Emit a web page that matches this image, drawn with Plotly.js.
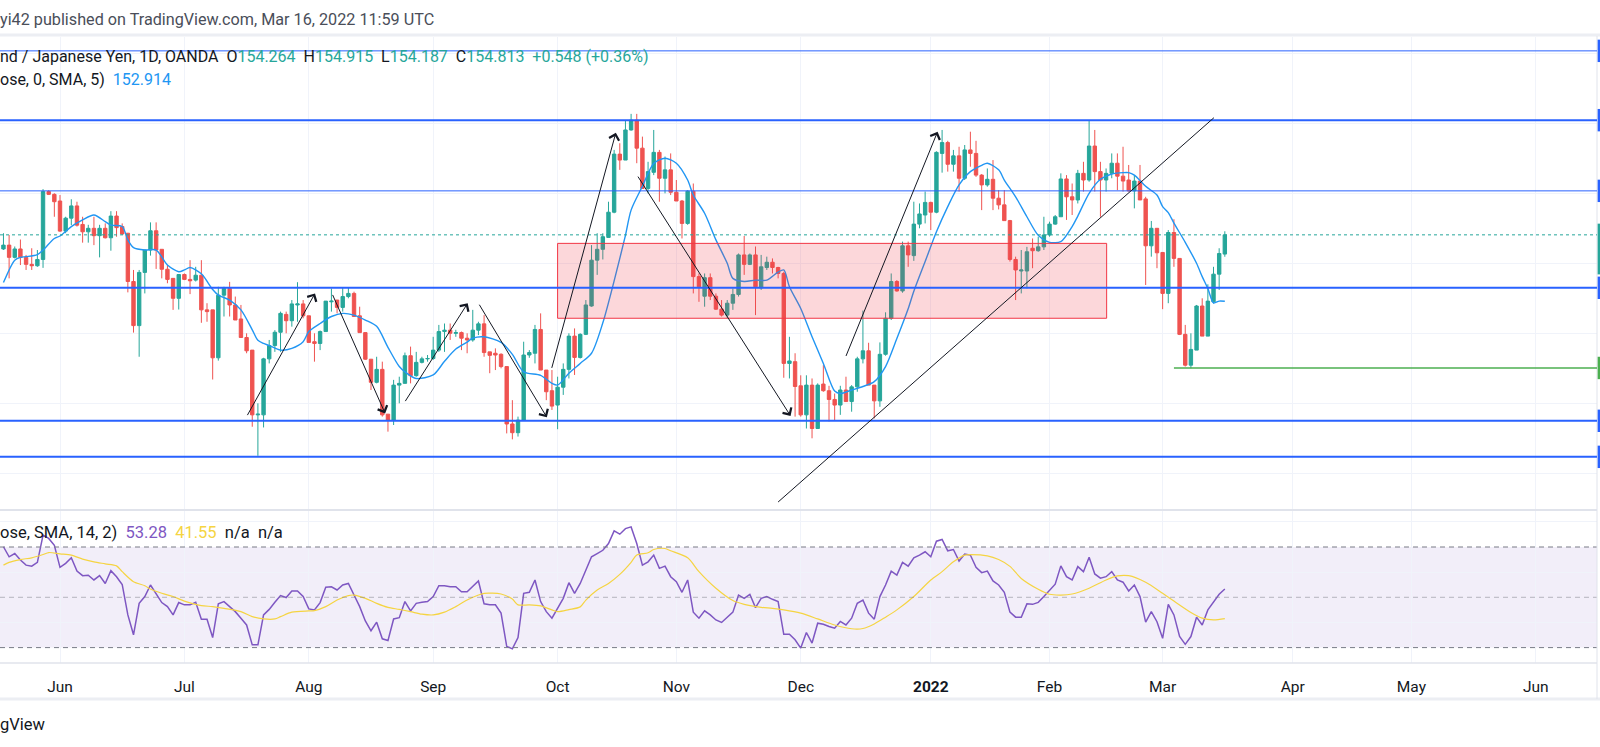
<!DOCTYPE html>
<html><head><meta charset="utf-8">
<script src="https://cdn.plot.ly/plotly-3.0.1.min.js"></script>
<style>html,body{margin:0;padding:0;background:#fff;overflow:hidden}#chart{width:1600px;height:747px}</style>
</head><body><div id="chart"></div>
<script>
// ---- data ----
const firstBar = '2021-05-18', lastBar = '2022-03-16';

const openPx = [154.41,154.52,154.17,154.41,154.17,153.97,153.93,154.11,156.05,155.97,
155.78,154.92,155.29,155.64,155.11,154.90,155.00,154.79,155.00,154.73,
155.35,155.05,154.86,153.48,152.22,153.74,154.38,154.93,154.40,153.83,
153.57,153.00,153.68,153.54,153.52,153.66,152.67,152.67,151.30,153.09,
153.28,152.81,152.41,151.88,151.52,149.67,149.67,151.27,151.65,152.03,
152.54,152.36,152.81,152.84,152.50,151.76,151.71,152.05,152.90,152.95,
152.74,153.05,153.14,152.50,152.02,151.26,150.60,150.97,149.69,149.52,
150.52,150.57,151.36,150.79,151.17,151.27,151.28,151.52,152.05,152.09,
152.00,152.02,151.86,151.81,152.09,152.27,151.47,151.43,151.40,151.05,
149.41,149.16,149.52,151.38,151.43,152.11,150.95,150.36,149.95,150.46,
150.97,151.92,151.31,151.97,152.78,154.09,154.40,154.74,155.46,157.12,
156.95,157.81,158.09,157.29,156.14,156.60,157.17,156.43,156.67,156.03,
155.78,155.14,156.06,153.62,153.06,153.59,153.06,152.69,152.52,152.86,
153.11,154.24,153.97,154.24,153.30,153.88,154.03,153.88,153.71,151.14,
151.19,150.50,149.67,150.52,149.28,150.55,150.36,150.11,149.95,150.38,
150.05,150.47,151.27,151.50,150.52,150.07,151.40,152.43,153.48,153.21,
154.50,154.22,155.12,155.38,155.74,155.46,157.14,157.45,156.83,157.07,
156.43,157.24,157.14,156.52,156.24,156.40,155.86,155.67,155.22,154.11,
153.78,153.78,154.43,154.36,154.47,154.81,155.12,155.33,156.41,155.90,
155.81,156.57,156.38,157.35,156.62,156.38,156.57,156.86,156.49,156.38,
156.07,156.35,155.84,154.50,155.00,154.31,153.14,154.88,154.14,151.97,
151.09,151.52,152.78,151.92,152.90,153.69,154.264];

const highPx = [154.86,154.81,154.48,154.68,154.24,154.43,154.38,156.12,156.09,156.00,
155.95,155.33,155.83,155.76,155.33,155.10,155.33,155.10,155.14,155.49,
155.49,155.14,154.86,153.81,153.81,154.38,155.17,155.17,154.40,153.95,
153.57,153.68,153.71,154.09,153.90,154.09,152.86,152.67,153.33,153.33,
153.47,153.05,152.81,152.00,151.52,150.00,151.30,151.81,152.09,152.62,
152.62,152.95,153.46,152.95,152.50,152.00,152.08,152.92,153.28,152.95,
153.30,153.30,153.19,152.76,152.02,151.26,151.33,151.19,149.69,150.67,
150.76,151.45,151.62,151.47,151.33,151.38,151.90,152.24,152.28,152.28,
152.10,152.05,152.00,152.67,152.33,152.52,151.47,151.57,151.43,151.05,
150.09,149.62,151.76,151.52,152.24,152.57,150.95,150.95,150.76,151.14,
152.00,152.14,152.00,152.95,154.52,154.86,154.86,155.76,157.24,157.43,
158.09,158.27,158.27,157.62,156.90,157.81,157.24,157.05,157.14,156.38,
155.81,156.09,156.28,153.71,153.71,153.71,153.14,152.95,152.95,153.28,
154.28,154.78,154.28,154.48,154.24,154.19,154.14,153.90,153.76,151.90,
151.43,150.80,150.80,150.71,150.57,151.09,150.50,150.28,150.50,150.76,
150.52,151.33,152.65,151.73,150.52,151.74,152.60,153.71,153.52,154.62,
154.62,155.76,155.71,156.05,155.76,157.20,157.81,157.50,157.24,157.33,
157.38,157.76,157.50,156.55,156.71,156.95,156.09,156.09,155.24,154.19,
154.38,154.47,154.71,154.76,155.33,155.19,155.38,156.57,156.52,156.28,
156.67,156.90,158.09,157.81,156.90,156.71,157.14,157.14,157.33,156.81,
156.52,156.81,155.90,155.21,155.00,154.31,154.95,155.26,154.14,152.24,
152.00,152.81,153.00,153.40,153.90,154.43,154.915];

const lowPx = [154.38,153.57,154.14,153.95,153.81,153.81,153.90,153.87,155.95,155.33,
154.90,154.86,155.09,155.05,154.59,154.59,154.52,154.17,154.71,154.36,
154.76,154.81,153.17,152.02,151.33,153.14,154.22,153.84,153.57,153.43,
152.67,152.68,153.52,153.12,153.48,152.30,152.33,150.68,151.22,152.48,
152.48,152.38,151.88,151.43,149.33,148.50,149.31,151.14,151.47,151.47,
152.00,152.19,152.33,152.43,151.74,151.19,151.52,152.05,152.62,152.57,
152.62,153.00,152.48,152.02,151.24,150.38,150.57,149.62,149.19,149.38,
150.00,150.57,150.57,150.76,151.14,151.19,151.24,151.47,151.47,151.81,
151.90,151.52,151.43,151.76,151.95,151.33,150.86,150.95,151.00,149.14,
148.97,149.05,149.52,151.30,151.14,150.95,150.09,149.81,149.26,150.24,
150.71,150.81,151.28,151.95,152.76,153.67,154.11,154.74,155.43,156.67,
156.95,157.79,156.86,156.14,156.00,156.52,155.76,156.00,155.95,155.78,
154.71,155.10,153.14,152.90,152.76,152.95,152.67,152.48,152.43,152.67,
153.05,153.67,153.95,152.52,153.24,153.81,153.71,153.57,150.73,150.71,
149.62,149.62,149.28,149.00,149.28,150.33,149.48,149.52,149.67,150.05,
149.76,150.33,151.14,150.52,149.57,149.90,151.36,152.38,153.19,153.16,
153.90,154.07,155.00,155.14,154.95,155.43,156.59,156.62,156.62,156.05,
156.38,156.76,156.47,155.52,156.19,155.52,155.54,155.22,154.05,152.95,
153.14,153.28,153.86,154.33,154.38,154.76,155.10,155.33,155.24,155.38,
155.71,156.05,156.33,156.05,155.33,156.05,156.43,156.09,156.05,156.05,
155.57,155.81,153.38,154.19,153.86,152.69,152.86,153.90,151.95,151.05,
151.00,151.52,151.92,151.92,152.85,153.24,154.187];

const closePx = [154.52,154.17,154.41,154.17,153.97,153.93,154.11,156.05,155.97,155.76,
154.92,155.29,155.64,155.09,154.90,155.00,154.79,155.00,154.73,155.35,
155.02,154.84,153.48,152.22,153.74,154.38,154.93,154.38,153.83,153.54,
153.00,153.68,153.54,153.50,153.66,152.67,152.62,151.30,153.09,153.28,
152.81,152.38,151.88,151.50,149.67,149.69,151.27,151.65,152.03,152.57,
152.36,152.84,152.84,152.50,151.74,151.71,152.05,152.92,152.92,152.74,
153.05,153.14,152.48,152.02,151.26,150.60,150.97,149.67,149.52,150.52,
150.57,151.36,150.79,151.17,151.27,151.28,151.52,152.05,152.09,152.00,
152.02,151.86,151.81,152.09,152.27,151.45,151.37,151.38,151.05,149.41,
149.16,149.52,151.38,151.45,152.11,150.95,150.33,149.92,150.46,150.97,
151.92,151.31,151.97,152.81,154.09,154.40,154.76,155.46,157.12,156.95,
157.81,158.09,157.29,156.14,156.62,157.17,156.43,156.67,156.03,155.78,
155.14,156.06,153.62,153.33,153.59,153.06,152.69,152.52,152.86,153.11,
154.24,153.97,154.24,153.33,153.90,154.03,153.88,153.71,151.14,151.21,
150.48,149.67,150.52,149.28,150.52,150.36,150.11,149.95,150.38,150.05,
150.47,151.27,151.50,150.52,150.07,151.40,152.43,153.48,153.21,154.50,
154.24,155.12,155.41,155.74,155.46,157.17,157.45,156.83,157.07,156.43,
157.24,157.14,156.52,156.24,156.40,155.86,155.67,155.22,154.11,153.81,
153.81,154.33,154.36,154.47,154.81,155.12,155.33,156.41,155.90,155.81,
156.57,156.38,157.35,156.62,156.38,156.57,156.86,156.49,156.35,156.07,
156.35,155.81,154.50,155.00,154.30,153.14,154.88,154.14,151.97,151.09,
151.54,152.78,151.92,152.92,153.69,154.28,154.813];

const rsiVal = [70.1,66.1,67.4,64.8,62.8,62.4,63.9,74.7,73.4,70.7,
61.9,63.5,65.7,60.4,58.6,58.8,56.9,58.6,55.5,60.6,
58.2,55.1,43.0,35.1,47.6,50.3,54.9,51.6,47.9,46.3,
43.0,47.9,47.0,47.0,48.0,41.3,41.3,34.0,47.4,48.3,
46.3,44.3,41.7,39.0,31.1,31.1,43.0,45.2,48.0,50.7,
49.9,52.5,52.5,50.3,45.4,45.0,47.9,54.0,54.2,52.9,
54.9,55.5,50.9,46.3,40.6,36.7,40.1,33.5,32.8,41.4,
41.9,48.3,44.6,47.6,48.0,48.3,50.3,54.6,54.6,54.2,
54.2,52.2,52.2,54.5,56.5,47.4,47.0,47.0,43.7,30.5,
29.5,34.0,51.6,52.0,56.9,48.3,44.3,41.7,45.6,49.6,
55.8,51.6,55.5,60.8,66.1,67.4,68.7,71.4,76.4,75.1,
77.3,78.0,71.4,62.8,64.1,66.8,61.5,62.4,58.2,56.2,
52.0,56.9,44.1,41.7,44.6,43.0,41.0,40.0,42.1,44.1,
50.9,49.6,51.2,45.9,49.6,50.3,49.2,48.3,35.3,35.3,
33.1,29.8,36.0,31.8,39.7,39.3,38.4,37.7,40.4,39.0,
41.7,47.6,48.9,43.7,41.3,50.3,54.9,60.4,58.8,63.9,
62.4,65.7,66.8,68.1,66.1,72.3,73.0,68.5,69.0,64.4,
67.2,66.8,61.9,59.8,60.4,56.5,54.9,52.0,44.1,42.1,
42.1,47.4,47.2,48.0,50.3,52.9,55.2,62.5,58.2,56.9,
62.2,60.2,65.9,59.3,57.6,58.2,60.2,56.9,56.0,52.5,
54.9,50.3,40.1,44.3,40.3,33.7,47.2,43.0,34.4,31.3,
34.4,42.1,39.0,45.0,48.3,51.2,53.28];

// moving average (blue) read at these bar numbers
const smaBar = [0,2,3,4,6,7,9,10,12,14,16,18,19,21,22,23,25,27,29,31,32,33,35,37,38,40,42,44,45,46,
47,49,51,53,54,56,58,60,62,64,66,68,70,71,73,76,78,80,82,83,85,88,90,92,95,97,98,100,102,104,
106,108,110,111,113,115,117,119,121,122,124,126,128,129,131,133,135,137,138,139,141,143,145,147,148,150,152,154,156,158,
160,161,163,165,167,169,171,173,174,176,177,179,181,183,185,187,189,190,192,194,196,198,199,200,202,204,205,206,207,209,
211,212,213,214,215,216];
const smaVal = [153.45,154.09,154.17,154.19,154.25,154.38,154.71,154.78,155.05,155.24,
155.38,155.19,155.09,155.05,154.67,154.45,154.38,154.38,153.95,153.76,
153.81,153.88,153.70,153.25,153.09,152.95,152.67,152.10,151.80,151.71,
151.65,151.52,151.57,151.76,152.05,152.28,152.48,152.57,152.52,152.38,
152.20,151.60,151.05,150.90,150.71,150.81,151.20,151.55,151.75,151.86,
151.90,151.74,151.40,150.90,150.80,150.57,150.52,150.86,151.14,151.43,
152.30,153.50,154.80,155.52,156.20,156.85,157.00,156.86,156.38,155.95,
155.43,154.67,154.00,153.57,153.48,153.52,153.52,153.75,153.81,153.33,
152.71,151.90,151.14,150.35,150.28,150.38,150.48,150.62,151.05,151.85,
152.70,153.20,154.05,154.90,155.62,156.24,156.62,156.80,156.86,156.67,
156.38,155.90,155.33,154.80,154.60,154.62,155.05,155.35,156.00,156.40,
156.55,156.59,156.59,156.52,156.20,155.95,155.62,155.45,155.15,154.60,
154.00,153.62,153.28,152.87,152.92,152.914];

// RSI-based MA (yellow) read at these bar numbers
const rsiMaBar = [0,1,3,5,7,8,10,12,14,16,18,20,21,23,25,26,28,30,32,35,37,39,42,44,46,48,49,51,54,55,
57,59,61,62,64,66,68,70,72,74,76,78,80,82,84,85,88,90,91,93,95,97,98,100,102,103,105,107,109,111,
112,114,115,117,118,121,123,126,129,131,134,136,138,141,144,147,150,152,154,156,158,161,164,166,168,170,171,174,176,178,
180,183,185,187,189,192,195,197,199,202,205,207,210,212,214,216];
const rsiMaVal = [62.8,63.9,65.0,65.7,67.0,67.8,67.3,66.8,65.2,64.1,
63.3,62.5,60.2,56.2,54.6,53.3,51.6,50.3,48.5,46.7,
46.3,45.6,44.3,42.3,41.4,41.4,42.3,44.1,44.6,44.7,
46.3,48.9,50.7,50.9,49.6,47.6,46.0,45.2,44.3,43.3,
43.0,44.1,46.3,48.9,50.9,51.6,51.3,49.3,47.0,47.0,
46.6,45.0,44.3,45.1,46.2,48.9,52.9,55.5,59.1,63.9,
66.8,67.7,69.0,69.4,68.5,65.7,60.2,53.6,48.7,47.2,
46.0,45.6,45.0,43.7,41.4,39.0,37.5,37.6,39.4,42.1,
45.0,50.3,56.9,60.2,64.1,66.8,67.0,66.5,65.0,62.3,
57.5,53.2,51.2,50.9,51.3,53.6,56.9,58.5,58.6,56.0,
51.6,48.5,44.0,41.7,41.0,41.55];

const tickDates = ['2021-06-01','2021-07-01','2021-08-02','2021-09-01','2021-10-01','2021-11-01','2021-12-01','2022-01-03','2022-02-01','2022-03-01','2022-04-01','2022-05-02','2022-06-01'];
const tickText = ['Jun','Jul','Aug','Sep','Oct','Nov','Dec','<b>2022</b>','Feb','Mar','Apr','May','Jun'];

// horizontal levels (prices)
const levelThin = [160.07, 156.07];
const levelThick = [158.09, 153.30, 149.50, 148.47];
const lastClose = 154.813;
const supportLevel = 151.01, supportStart = '2022-03-03';
const zoneLow = 152.43, zoneHigh = 154.57, zoneStart = '2021-10-01', zoneEnd = '2022-02-15 02:24';
const trendLine = ['2021-11-25', 147.18, '2022-03-14 01:40', 158.16];
const arrowsDrawn = [
  ['2021-07-16 00:00',149.62,'2021-08-03 02:24',153.14],
  ['2021-08-06 02:24',153.14,'2021-08-19 12:00',149.71],
  ['2021-08-24 21:36',150.02,'2021-09-09 02:24',152.86],
  ['2021-09-13 00:00',152.86,'2021-09-29 02:24',149.60],
  ['2021-09-29 21:36',150.97,'2021-10-15 07:12',157.73],
  ['2021-10-21 01:12',156.52,'2021-11-29 04:48',149.64],
  ['2021-12-10 21:36',151.31,'2022-01-04 04:48',157.76]
];

// ---- build ----
function weekdays(a, b) {
  const out = []; const d = new Date(a + 'T00:00:00Z'); const e = new Date(b + 'T00:00:00Z');
  while (d <= e) { const w = d.getUTCDay(); if (w !== 0 && w !== 6) out.push(d.toISOString().slice(0, 10)); d.setUTCDate(d.getUTCDate() + 1); }
  return out;
}
const dates = weekdays(firstBar, lastBar);

const FONT = 'Roboto, "Liberation Sans", sans-serif';
const BLUE = '#2962ff', DARK = '#131722';

const traces = [
  { type:'candlestick', x:dates, open:openPx, high:highPx, low:lowPx, close:closePx, xaxis:'x', yaxis:'y',
    increasing:{line:{color:'#26a69a', width:1}, fillcolor:'#26a69a'},
    decreasing:{line:{color:'#ef5350', width:1}, fillcolor:'#ef5350'},
    whiskerwidth:0, hoverinfo:'skip', showlegend:false },
  { type:'scatter', mode:'lines', x:smaBar.map(i => dates[i]), y:smaVal, xaxis:'x', yaxis:'y',
    line:{color:'#2196f3', width:1.4, shape:'spline', smoothing:0.8}, hoverinfo:'skip', showlegend:false },
  { type:'scatter', mode:'lines', x:dates, y:rsiVal, xaxis:'x', yaxis:'y2',
    line:{color:'#7e57c2', width:1.5}, hoverinfo:'skip', showlegend:false },
  { type:'scatter', mode:'lines', x:rsiMaBar.map(i => dates[i]), y:rsiMaVal, xaxis:'x', yaxis:'y2',
    line:{color:'#f5d442', width:1.2, shape:'spline', smoothing:0.8}, hoverinfo:'skip', showlegend:false }
];

const py = px => (663 - px) / 626;   // paper y from pixel row
const shapes = [];
// RSI band and levels
shapes.push({type:'rect', xref:'paper', yref:'y2', x0:0, x1:1, y0:30, y1:70, fillcolor:'rgba(126,87,194,0.1)', line:{width:0}, layer:'below'});
[70, 30].forEach(v => shapes.push({type:'line', xref:'paper', yref:'y2', x0:0, x1:1, y0:v, y1:v, line:{color:'#787b86', width:1, dash:'5px,4px'}}));
shapes.push({type:'line', xref:'paper', yref:'y2', x0:0, x1:1, y0:50, y1:50, line:{color:'rgba(120,123,134,0.5)', width:1, dash:'5px,4px'}});
// separators
shapes.push({type:'line', xref:'paper', yref:'paper', x0:0, x1:1.002, y0:py(35), y1:py(35), line:{color:'#eceef3', width:3}});
shapes.push({type:'line', xref:'paper', yref:'paper', x0:0, x1:1, y0:py(510), y1:py(510), line:{color:'#e0e3eb', width:2}});
shapes.push({type:'line', xref:'paper', yref:'paper', x0:0, x1:1, y0:0, y1:0, line:{color:'#e0e3eb', width:1.5}});
shapes.push({type:'line', xref:'paper', yref:'paper', x0:0, x1:1.002, y0:py(699), y1:py(699), line:{color:'#eceef3', width:3}});
shapes.push({type:'line', xref:'paper', yref:'paper', x0:1, x1:1, y0:py(699), y1:py(36), line:{color:'#e0e3eb', width:1}});
// zone
shapes.push({type:'rect', xref:'x', yref:'y', x0:zoneStart, x1:zoneEnd, y0:zoneLow, y1:zoneHigh, fillcolor:'rgba(242,54,69,0.2)', line:{color:'#f23645', width:1}});
// levels
levelThin.forEach(p => shapes.push({type:'line', xref:'paper', yref:'y', x0:0, x1:1, y0:p, y1:p, line:{color:BLUE, width:1}}));
levelThick.forEach(p => shapes.push({type:'line', xref:'paper', yref:'y', x0:0, x1:1, y0:p, y1:p, line:{color:BLUE, width:2}}));
levelThin.concat(levelThick).forEach(p => shapes.push({type:'rect', xref:'paper', yref:'y', x0:1.0004, x1:1.004, y0:p-0.32, y1:p+0.32, fillcolor:BLUE, line:{width:0}}));
// last price line
shapes.push({type:'line', xref:'paper', yref:'y', x0:0, x1:1, y0:lastClose, y1:lastClose, line:{color:'#26a69a', width:1, dash:'dot'}});
shapes.push({type:'rect', xref:'paper', yref:'y', x0:1.0004, x1:1.004, y0:lastClose-1.13, y1:lastClose+0.32, fillcolor:'#26a69a', line:{width:0}});
// support ray
shapes.push({type:'line', xref:'x', yref:'y', x0:supportStart, x1:'2022-08-01', y0:supportLevel, y1:supportLevel, line:{color:'#4caf50', width:1.5}});
shapes.push({type:'rect', xref:'paper', yref:'y', x0:1.0004, x1:1.004, y0:supportLevel-0.32, y1:supportLevel+0.32, fillcolor:'#4caf50', line:{width:0}});
// trend line
shapes.push({type:'line', xref:'x', yref:'y', x0:trendLine[0], y0:trendLine[1], x1:trendLine[2], y1:trendLine[3], line:{color:DARK, width:1}});

const G = '#26a69a';
const sp = (c, t) => '<span style="color:' + c + '">' + t + '</span>';
const nb = '\u00a0\u00a0';
const annotations = [
  {xref:'paper', yref:'paper', x:0, y:py(20), xanchor:'left', yanchor:'middle', showarrow:false, borderpad:0, borderwidth:0,
   text:'yi42 published on TradingView.com, Mar 16, 2022 11:59 UTC', font:{family:FONT, size:16.2, color:'#4a4e59'}},
  {xref:'paper', yref:'paper', x:0, y:py(57), xanchor:'left', yanchor:'middle', showarrow:false, borderpad:0, borderwidth:0,
   text:'nd / Japanese Yen, 1D, OANDA' + nb + 'O' + sp(G,'154.264') + nb + 'H' + sp(G,'154.915') + nb + 'L' + sp(G,'154.187') + nb + 'C' + sp(G,'154.813') + nb + sp(G,'+0.548 (+0.36%)'),
   font:{family:FONT, size:16, color:DARK}},
  {xref:'paper', yref:'paper', x:0, y:py(80), xanchor:'left', yanchor:'middle', showarrow:false, borderpad:0, borderwidth:0,
   text:'ose, 0, SMA, 5)' + nb + sp('#2196f3','152.914'), font:{family:FONT, size:16, color:DARK}},
  {xref:'paper', yref:'paper', x:0, y:py(532), xanchor:'left', yanchor:'middle', showarrow:false, borderpad:0, borderwidth:0,
   text:'ose, SMA, 14, 2)' + nb + sp('#7e57c2','53.28') + nb + sp('#f5d442','41.55') + nb + 'n/a' + nb + 'n/a', font:{family:FONT, size:16.5, color:DARK}},
  {xref:'paper', yref:'paper', x:0, y:py(724), xanchor:'left', yanchor:'middle', showarrow:false, borderpad:0, borderwidth:0,
   text:'gView', font:{family:FONT, size:16.5, color:DARK}}
];
arrowsDrawn.forEach(a => annotations.push({xref:'x', yref:'y', axref:'x', ayref:'y', x:a[2], y:a[3], ax:a[0], ay:a[1],
  text:'', showarrow:true, arrowhead:4, arrowsize:2, arrowwidth:1, arrowcolor:DARK, standoff:0}));

const layout = {
  width:1600, height:747,
  margin:{l:0, r:3, t:37, b:84, pad:0},
  paper_bgcolor:'#ffffff', plot_bgcolor:'#ffffff',
  showlegend:false, hovermode:false,
  font:{family:FONT, size:15, color:DARK},
  boxgap:0.4, boxgroupgap:0,
  xaxis:{type:'date', range:['2021-05-17 09:20','2022-06-15 19:40'], rangebreaks:[{bounds:['sat','mon']}],
    anchor:'y2', tickmode:'array', tickvals:tickDates, ticktext:tickText, ticks:'outside', ticklen:9, tickcolor:'rgba(0,0,0,0)',
    showgrid:true, gridcolor:'#f0f3fa', gridwidth:1, zeroline:false, showline:false, rangeslider:{visible:false},
    tickfont:{family:FONT, size:15.5, color:DARK}, fixedrange:true},
  yaxis:{domain:[0.246,1], range:[146.98,160.466], anchor:'x', tickmode:'linear', tick0:0, dtick:2, showticklabels:false,
    ticks:'', showgrid:true, gridcolor:'#f0f3fa', zeroline:false, showline:false, fixedrange:true},
  yaxis2:{domain:[0,0.2444], range:[23.88,84.71], anchor:'x', tickmode:'array', tickvals:[20,40,60,80], showticklabels:false,
    ticks:'', showgrid:true, gridcolor:'#f0f3fa', zeroline:false, showline:false, fixedrange:true},
  shapes:shapes, annotations:annotations
};

Plotly.newPlot('chart', traces, layout, {staticPlot:true, displayModeBar:false});
</script>
</body></html>
